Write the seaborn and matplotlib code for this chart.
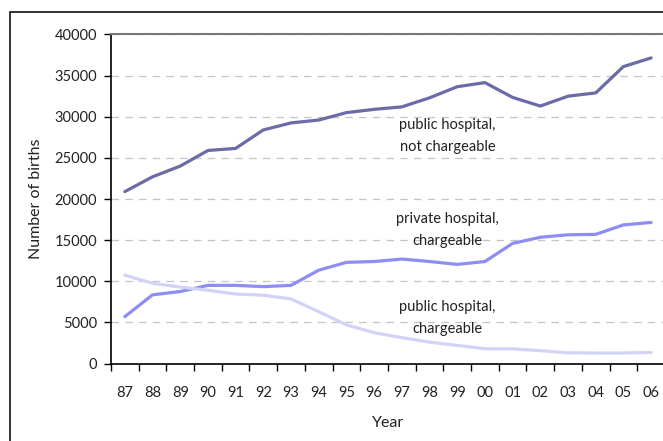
import pandas as pd
import numpy as np
import seaborn as sns
import matplotlib.pyplot as plt
from matplotlib.patches import Rectangle

# values
years = ['87', '88', '89', '90', '91', '92', '93', '94', '95', '96',
         '97', '98', '99', '00', '01', '02', '03', '04', '05', '06']
public_free = [20900, 22700, 24000, 25900, 26150, 28400, 29250, 29600, 30500, 30900,
               31200, 32300, 33650, 34150, 32350, 31300, 32500, 32900, 36100, 37150]
private_paid = [5700, 8350, 8750, 9500, 9500, 9350, 9500, 11350, 12300, 12400,
                12700, 12400, 12050, 12400, 14600, 15350, 15650, 15700, 16850, 17150]
public_paid = [10750, 9750, 9300, 8900, 8450, 8300, 7850, 6300, 4700, 3750,
               3150, 2600, 2200, 1800, 1780, 1560, 1300, 1280, 1280, 1350]

series_names = ['public hospital,\nnot chargeable', 'private hospital,\nchargeable',
                'public hospital,\nchargeable']
colors = ['#6b6ba8', '#8d8df5', '#d3d3f8']

df = pd.DataFrame({'pos': np.arange(len(years)), 'year': years,
                   series_names[0]: public_free,
                   series_names[1]: private_paid,
                   series_names[2]: public_paid})
long_df = df.melt(id_vars=['pos', 'year'], var_name='series', value_name='births')

sns.set_style('white')
plt.rcParams['font.family'] = ['Lato', 'DejaVu Sans']

fig = plt.figure(figsize=(6.63, 4.41), dpi=100)
ax = fig.add_axes([0.1674, 0.1757, 0.8356, 0.7461])

sns.lineplot(data=long_df, x='pos', y='births', hue='series', palette=colors,
             linewidth=2.3, legend=False, ax=ax)

ax.set_xlim(-0.5, len(years) - 0.5)
ax.set_ylim(0, 40000)
ax.set_yticks(np.arange(0, 40001, 5000))
ax.yaxis.grid(True, color='#c4c4c4', linestyle=(0, (6, 5)), linewidth=0.9)
ax.set_axisbelow(True)

# category boundaries get the tick marks, labels sit in the middle
ax.set_xticks(np.arange(-0.5, len(years), 1.0))
ax.set_xticklabels([])
ax.set_xticks(np.arange(len(years)), minor=True)
ax.set_xticklabels(years, minor=True, fontsize=10.5, color='#222222')
ax.tick_params(axis='x', which='major', direction='out', length=5, width=1, color='black', bottom=True)
ax.tick_params(axis='x', which='minor', length=0, pad=16)
ax.tick_params(axis='y', direction='out', length=5, width=1, color='black', left=True,
               labelsize=10.5, labelcolor='#222222', pad=5)

for side in ['left', 'bottom']:
    ax.spines[side].set_color('black')
    ax.spines[side].set_linewidth(1.2)
ax.spines['top'].set_color('#777777')
ax.spines['top'].set_linewidth(1.5)
ax.spines['right'].set_visible(False)

ax.set_xlabel('Year', fontsize=11.5, color='#222222', labelpad=12)
ax.set_ylabel('Number of births', fontsize=11.5, color='#222222', labelpad=8)

ax.text(11.65, 27650, series_names[0], ha='center', va='center', fontsize=10.5,
        color='#222222', linespacing=1.75)
ax.text(11.65, 16250, series_names[1], ha='center', va='center', fontsize=10.5,
        color='#222222', linespacing=1.75)
ax.text(11.65, 5500, series_names[2], ha='center', va='center', fontsize=10.5,
        color='#222222', linespacing=1.75)

# outer frame that runs off the right and bottom of the picture
fig.patches.append(Rectangle((10 / 663, -0.1), 1.2, 1.1 - 12 / 441, transform=fig.transFigure,
                             fill=False, edgecolor='#222222', linewidth=1.3))

fig.savefig('out.png', dpi=100)
